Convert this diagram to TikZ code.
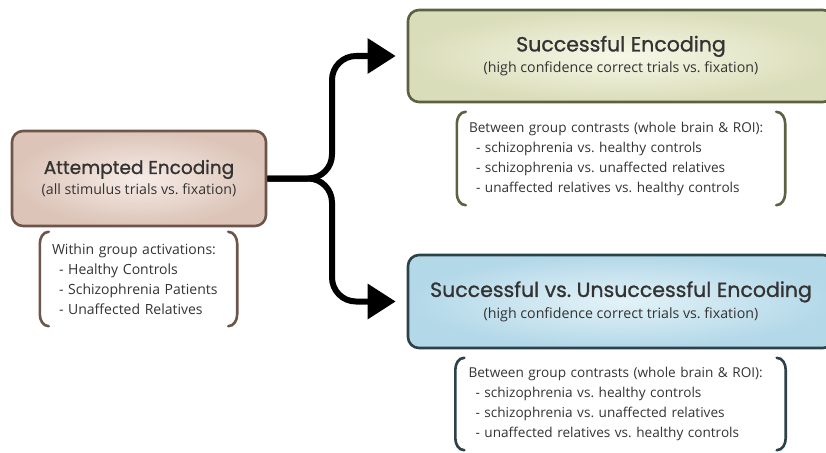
\documentclass[tikz,border=0pt]{standalone}
\usepackage{fontspec}
\setmainfont{Open Sans}
\newfontfamily\headfont{Poppins}[FakeBold=1]
\usetikzlibrary{arrows.meta}
\definecolor{attline}{HTML}{6E5549}
\definecolor{attin}{HTML}{F7ECE7}
\definecolor{attout}{HTML}{DCC4B8}
\definecolor{sucline}{HTML}{5C6142}
\definecolor{sucin}{HTML}{F7F8E8}
\definecolor{sucout}{HTML}{DADDB9}
\definecolor{unsline}{HTML}{2C4148}
\definecolor{unsin}{HTML}{E3F2F8}
\definecolor{unsout}{HTML}{B3D8E8}
\definecolor{txt}{HTML}{333333}
\frenchspacing
\begin{document}
\begin{tikzpicture}
    [
    x = 1pt, y = -1pt,
    every node/.style = {text = txt},
    ]
    \tikzstyle{stage box}=[rectangle,rounded corners=11pt,line width=2.6pt,align=center,inner sep=0pt]
    \tikzstyle{list box}=[rectangle,align=left,inner sep=0pt,font=\fontsize{14}{20}\selectfont]
    \tikzstyle{bracket}=[line width=2.6pt,line cap=round]
    \tikzstyle{branch}=[line width=6pt,rounded corners=24pt,-{Triangle[length=28pt,width=34pt]}]

    \useasboundingbox (0,0) rectangle (826,452);

    \node[stage box,draw=attline,inner color=attin,outer color=attout,minimum width=254pt,minimum height=95pt] (att) at (139,178.5)
        {{\headfont\fontsize{18.5}{20}\selectfont Attempted Encoding}\\[4pt]
         {\fontsize{14.2}{16}\selectfont (all stimulus trials vs. fixation)}};
    \node[stage box,draw=sucline,inner color=sucin,outer color=sucout,minimum width=426pt,minimum height=92pt] (suc) at (621,56)
        {{\headfont\fontsize{20.5}{22}\selectfont Successful Encoding}\\[4pt]
         {\fontsize{14.2}{16}\selectfont (high confidence correct trials vs. fixation)}};
    \node[stage box,draw=unsline,inner color=unsin,outer color=unsout,minimum width=426pt,minimum height=93pt] (uns) at (621,301.5)
        {{\headfont\fontsize{20.5}{22}\selectfont Successful vs. Unsuccessful Encoding}\\[4pt]
         {\fontsize{14.2}{16}\selectfont (high confidence correct trials vs. fixation)}};

    \node[list box,minimum width=197pt,minimum height=94pt,text width=173pt] (within) at (138.5,279)
        {Within group activations:\\
         \hspace*{7pt}- Healthy Controls\\
         \hspace*{7pt}- Schizophrenia Patients\\
         \hspace*{7pt}- Unaffected Relatives};
    \node[list box,font=\fontsize{13.6}{20}\selectfont,minimum width=328pt,minimum height=93pt,text width=304pt] (sucgrp) at (621,158.5)
        {Between group contrasts (whole brain \& ROI):\\
         \hspace*{7pt}- schizophrenia vs. healthy controls\\
         \hspace*{7pt}- schizophrenia vs. unaffected relatives\\
         \hspace*{7pt}- unaffected relatives vs. healthy controls};
    \node[list box,font=\fontsize{13.6}{20}\selectfont,minimum width=330pt,minimum height=92pt,text width=304pt] (unsgrp) at (620.5,404)
        {Between group contrasts (whole brain \& ROI):\\
         \hspace*{7pt}- schizophrenia vs. healthy controls\\
         \hspace*{7pt}- schizophrenia vs. unaffected relatives\\
         \hspace*{7pt}- unaffected relatives vs. healthy controls};

    \foreach \grp/\col in {within/attline,sucgrp/sucline,unsgrp/unsline}
    {
        \draw[bracket,draw=\col] ([xshift=9pt]\grp.north west) to[out=180,in=90] ([yshift=-12pt]\grp.north west)
            -- ([yshift=12pt]\grp.south west) to[out=-90,in=180] ([xshift=9pt]\grp.south west);
        \draw[bracket,draw=\col] ([xshift=-9pt]\grp.north east) to[out=0,in=90] ([yshift=-12pt]\grp.north east)
            -- ([yshift=12pt]\grp.south east) to[out=-90,in=0] ([xshift=-9pt]\grp.south east);
    }

    \coordinate (fork) at (332,178.5);
    \draw[branch] (att.east) -- (fork) -- (fork |- suc.west) -- ([xshift=-11pt]suc.west);
    \draw[branch] (att.east) -- (fork) -- (fork |- uns.west) -- ([xshift=-11pt]uns.west);
\end{tikzpicture}
\end{document}
